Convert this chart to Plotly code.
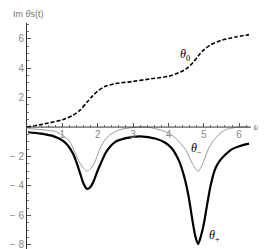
import plotly.graph_objects as go

# ---- data ----
t_theta0 = [0, 0.5, 1.0, 1.3, 1.5, 1.7, 1.85, 2.0, 2.2, 2.5, 3.0, 3.5, 4.0, 4.3, 4.5, 4.7, 4.85, 5.0, 5.2, 5.5, 5.9, 6.28]
v_theta0 = [0, 0.22, 0.5, 0.8, 1.15, 1.7, 2.1, 2.45, 2.75, 2.95, 3.1, 3.28, 3.45, 3.7, 3.95, 4.4, 4.85, 5.25, 5.6, 5.9, 6.12, 6.28]

t_plus = [0.03, 0.4, 0.76, 1.0, 1.14, 1.3, 1.4, 1.51, 1.6, 1.7, 1.8, 1.88, 2.0, 2.07, 2.25, 2.5, 2.8, 3.2, 3.65, 3.9, 4.1, 4.3, 4.45, 4.57, 4.67, 4.76, 4.84, 4.92, 5.0, 5.1, 5.2, 5.33, 5.45, 5.6, 5.8, 6.0, 6.28]
v_plus = [-0.35, -0.45, -0.63, -0.9, -1.2, -1.8, -2.4, -3.2, -3.85, -4.2, -4.05, -3.7, -2.95, -2.56, -1.65, -1.0, -0.75, -0.63, -0.79, -1.05, -1.45, -2.3, -3.4, -4.7, -6.2, -7.4, -7.95, -7.4, -6.6, -5.2, -3.9, -2.8, -2.3, -1.9, -1.5, -1.3, -1.12]

t_minus = [0.03, 0.5, 0.8, 1.0, 1.2, 1.35, 1.51, 1.7, 1.88, 2.07, 2.2, 2.35, 2.63, 3.0, 3.4, 3.74, 4.0, 4.2, 4.49, 4.67, 4.84, 5.0, 5.14, 5.3, 5.42, 5.6, 5.79, 6.0, 6.28]
v_minus = [-0.1, -0.2, -0.3, -0.55, -0.95, -1.7, -2.5, -3.0, -2.56, -1.43, -0.9, -0.52, -0.18, -0.03, 0, -0.18, -0.4, -0.75, -1.54, -2.45, -3.0, -2.3, -1.43, -0.85, -0.52, -0.2, -0.07, 0, 0]

x_tick_vals = [1, 2, 3, 4, 5, 6]
x_tick_text = ["1", "2", "3", "4", "5", "6"]
x_minor_vals = [round(0.2 * i, 1) for i in range(1, 32)]
y_tick_vals = [-8, -6, -4, -2, 2, 4, 6]
y_tick_text = ["\u2212 8", "\u2212 6", "\u2212 4", "\u2212 2", "2", "4", "6"]

labels = [
    ("<i>θ</i><sub>0</sub>", 4.47, 4.9),
    ("<i>θ</i><sub>\u2212</sub>", 4.8, -1.5),
    ("<i>θ</i><sub>+</sub>", 5.31, -7.4),
]

x_title = "<i>ω</i><sub>0</sub>t"
x_title_pos = (6.62, 0)

x_axis_end = 6.33
x_range = [0, 6.93]
y_range = [-8.69, 7.07]
y0_frac = (0 - y_range[0]) / (y_range[1] - y_range[0])

fig = go.Figure()
fig.add_trace(go.Scatter(x=t_minus, y=v_minus, mode="lines", line=dict(color="#9a9a9a", width=1, shape="spline", smoothing=0.8), hoverinfo="skip"))
fig.add_trace(go.Scatter(x=t_plus, y=v_plus, mode="lines", line=dict(color="black", width=2.2, shape="spline", smoothing=0.8), hoverinfo="skip"))
fig.add_trace(go.Scatter(x=t_theta0, y=v_theta0, mode="lines", line=dict(color="black", width=1.6, dash="4px,2px", shape="spline", smoothing=0.8), hoverinfo="skip"))

# x axis title drawn as a text mark inside the plot area
fig.add_trace(go.Scatter(x=[x_title_pos[0]], y=[x_title_pos[1]], mode="text", text=[x_title],
                         textposition="middle center", cliponaxis=False,
                         textfont=dict(family="Liberation Serif", size=11, color="#666"), hoverinfo="skip"))

# x axis line drawn only up to the end of the data axis
fig.add_shape(type="line", xref="x", yref="y", x0=0, x1=x_axis_end, y0=0, y1=0,
              line=dict(color="#333", width=1), layer="above")

for txt, xx, yy in labels:
    fig.add_annotation(x=xx, y=yy, xref="x", yref="y", text=txt, showarrow=False,
                       font=dict(family="Liberation Serif", size=12, color="black"))

fig.add_annotation(xref="paper", yref="paper", x=-0.066, y=1.0, yshift=9, xanchor="left", yanchor="middle",
                   text="Im <i>θ</i>s(t)", showarrow=False, font=dict(family="Liberation Sans", size=9, color="#777"))

fig.update_layout(
    width=266, height=249,
    margin=dict(l=16, r=2, t=15, b=2, pad=0),
    paper_bgcolor="white", plot_bgcolor="white",
    showlegend=False,
    xaxis=dict(range=x_range, anchor="free", position=y0_frac,
               showgrid=False, zeroline=False, showline=False,
               tickvals=x_tick_vals, ticktext=x_tick_text, ticks="inside", ticklen=4, tickcolor="#555",
               minor=dict(tickvals=x_minor_vals, ticks="inside", ticklen=2, tickcolor="#777"),
               tickfont=dict(family="Liberation Sans", size=10, color="#888"), fixedrange=True),
    yaxis=dict(range=y_range, showgrid=False, zeroline=False, showline=True, linecolor="#333", linewidth=1,
               tickvals=y_tick_vals, ticktext=y_tick_text, ticks="inside", ticklen=4, tickcolor="#555",
               minor=dict(dtick=0.5, ticks="inside", ticklen=2, tickcolor="#777"),
               tickfont=dict(family="Liberation Sans", size=10, color="#888"), fixedrange=True),
)

fig.write_html("out.html")
